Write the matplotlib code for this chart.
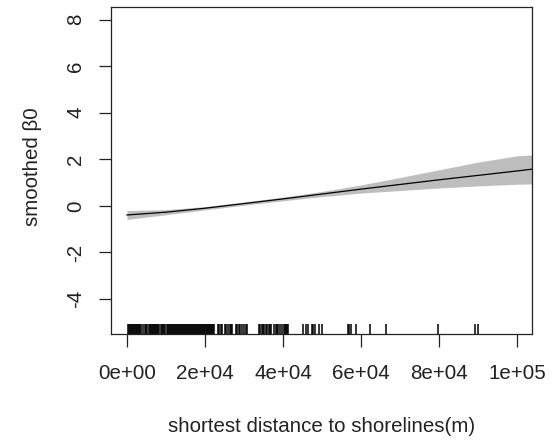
import matplotlib
matplotlib.use("Agg")
import matplotlib.pyplot as plt
import matplotlib.transforms as mtransforms

plt.rcParams['font.family'] = ['Liberation Sans', 'DejaVu Sans']

# smooth fit and confidence band
dist_grid = [0, 10000, 20000, 30000, 40000, 50000, 60000, 70000, 80000, 90000, 100000, 105000]
fit = [-0.39, -0.27, -0.10, 0.10, 0.30, 0.51, 0.72, 0.92, 1.12, 1.31, 1.50, 1.60]
upper = [-0.20, -0.16, -0.03, 0.17, 0.38, 0.62, 0.90, 1.22, 1.55, 1.88, 2.15, 2.20]
lower = [-0.58, -0.38, -0.17, 0.03, 0.22, 0.40, 0.55, 0.66, 0.77, 0.86, 0.93, 0.95]

# rug of observed distances (m)
rug = [330, 590, 840, 1100, 1350, 1610, 1870, 2120, 2380, 2640, 2890, 3150, 3400, 3660,
       4200, 4550, 4900, 5200,
       5700, 5950, 6200, 6450, 6700, 6950, 7200, 7450, 7700, 7950, 8250,
       8650, 8900, 9150, 9450, 9750,
       10200, 10450, 10700, 10950, 11200,
       11450, 11700, 12050,
       12300, 12550, 12800, 13050, 13300, 13550, 13800, 14050, 14300, 14550, 14800, 15050, 15300,
       15700, 15950, 16200, 16450, 16700, 16950, 17200, 17450, 17700, 17950, 18200, 18450,
       18700, 18950, 19200, 19450, 19700, 19950, 20250,
       20500, 20750, 21000, 21250, 21500, 21750, 22000, 22350,
       23250, 23550, 24100, 24400,
       25150, 25450, 26000, 26300, 26650, 27000,
       27950, 28250, 28600, 29000, 29400,
       30100, 30450, 30900,
       33850, 34200, 34550, 34950,
       35200, 35550, 35900, 36300, 36600, 36900,
       37750, 38100, 38400, 38800, 39200,
       39800, 40150, 40450, 40800, 41100, 41350,
       45200, 45900, 46500, 47400, 47800, 48200, 49300, 50100,
       56700, 57000, 57400, 58600, 62300, 66400, 79800, 89200, 89900]

xticks = [0, 20000, 40000, 60000, 80000, 100000]
xticklabels = ["0e+00", "2e+04", "4e+04", "6e+04", "8e+04", "1e+05"]
yticks = [-4, -2, 0, 2, 4, 6, 8]
yticklabels = ["-4", "-2", "0", "2", "4", "6", "8"]

fig = plt.figure(figsize=(5.53, 4.41), dpi=100)
ax = fig.add_axes([111/553, 1 - 334/441, 421/553, 327/441])

ax.fill_between(dist_grid, lower, upper, color="#BEBEBE", linewidth=0)
ax.plot(dist_grid, fit, color="black", linewidth=0.9)

trans = mtransforms.blended_transform_factory(ax.transData, ax.transAxes)
ax.vlines(rug, 0, 0.032, transform=trans, color="black", linewidth=1.1)

ax.set_xlim(-4100, 103850)
ax.set_ylim(-5.5, 8.54)

ax.set_xticks(xticks)
ax.set_xticklabels(xticklabels)
ax.set_yticks(yticks)
ax.set_yticklabels(yticklabels, rotation=90, va="center")

ax.tick_params(axis="both", direction="out", length=9, width=0.9, color="#222222",
               labelsize=14.8, labelcolor="#222222")
ax.tick_params(axis="x", pad=12.5)
ax.tick_params(axis="y", pad=9.5)

for sp in ax.spines.values():
    sp.set_color("#222222")
    sp.set_linewidth(0.9)

fig.text(32/553, 1 - 167/441, "smoothed β0", rotation=90, ha="center", va="center",
         fontsize=14.8, color="#222222")
fig.text(321.5/553, 1 - 426/441, "shortest distance to shorelines(m)", ha="center", va="center",
         fontsize=14.8, color="#222222")

fig.savefig("out.png", dpi=100)
